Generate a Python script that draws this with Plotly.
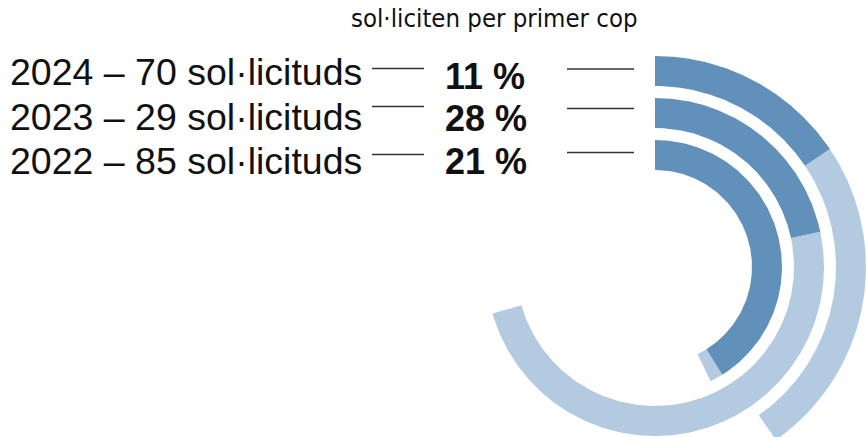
import numpy as np
import plotly.graph_objects as go

# ---- data ----
years = ["2024", "2023", "2022"]
requests = [70, 29, 85]
first_time_pct = [11, 28, 21]
# arc extents as drawn, degrees clockwise from 12 o'clock
dark_arc_deg = [56, 78, 148]
full_arc_deg = [145, 254, 154]
title_text = "sol·liciten per primer cop"

# ---- layout constants (pixels) ----
W, H = 866, 437
CX, CY = 655, 267
ring_outer = [211, 169, 127]
ring_width = 30
DARK = "#6190bb"
LIGHT = "#b4cae0"

label_y = [72.5, 117.5, 160.5]
pct_y = [76.5, 118.5, 161.5]
left_line_y = [68.5, 106.5, 154.5]
right_line_y = [69, 108.5, 152.5]


def arc_poly(r_in, r_out, a0, a1):
    t = np.radians(np.linspace(a0, a1, 240))
    xs = np.concatenate([r_out * np.sin(t), r_in * np.sin(t[::-1])])
    ys = np.concatenate([r_out * np.cos(t), r_in * np.cos(t[::-1])])
    return np.append(xs, xs[0]), np.append(ys, ys[0])


fig = go.Figure()
for i, yr in enumerate(years):
    r_out = ring_outer[i]
    r_in = r_out - ring_width
    xs, ys = arc_poly(r_in, r_out, dark_arc_deg[i], full_arc_deg[i])
    fig.add_trace(go.Scatter(x=xs, y=ys, fill="toself", fillcolor=LIGHT,
                             mode="lines", line=dict(width=0), hoverinfo="skip",
                             name=yr + " total"))
    xs, ys = arc_poly(r_in, r_out, 0, dark_arc_deg[i])
    fig.add_trace(go.Scatter(x=xs, y=ys, fill="toself", fillcolor=DARK,
                             mode="lines", line=dict(width=0), hoverinfo="skip",
                             name=yr))


def px(x):
    return x / W


def py(y):
    return 1 - y / H


annotations = []
shapes = []
annotations.append(dict(text=title_text, x=px(493.5), y=py(1), xref="paper", yref="paper",
                        xanchor="center", yanchor="top", showarrow=False,
                        font=dict(family="Liberation Sans Narrow, Arial Narrow, DejaVu Sans Condensed, Liberation Sans",
                                  size=25.5, color="#111")))
for i, yr in enumerate(years):
    annotations.append(dict(text=f"{yr} – {requests[i]} sol·licituds",
                            x=px(364), y=py(label_y[i]), xref="paper", yref="paper",
                            xanchor="right", yanchor="middle", showarrow=False,
                            font=dict(family="Liberation Sans, Arial", size=37.5, color="#111")))
    annotations.append(dict(text=f"<b>{first_time_pct[i]} %</b>",
                            x=px(443), y=py(pct_y[i]), xref="paper", yref="paper",
                            xanchor="left", yanchor="middle", showarrow=False,
                            font=dict(family="Liberation Sans, Arial", size=36, color="#111")))
    shapes.append(dict(type="line", xref="paper", yref="paper",
                       x0=px(372), x1=px(424), y0=py(left_line_y[i]), y1=py(left_line_y[i]),
                       line=dict(color="#333", width=1.5)))
    shapes.append(dict(type="line", xref="paper", yref="paper",
                       x0=px(567), x1=px(634), y0=py(right_line_y[i]), y1=py(right_line_y[i]),
                       line=dict(color="#333", width=1.5)))

fig.update_layout(
    width=W, height=H,
    margin=dict(l=0, r=0, t=0, b=0),
    paper_bgcolor="white", plot_bgcolor="white",
    showlegend=False,
    xaxis=dict(range=[-CX, W - CX], visible=False, fixedrange=True),
    yaxis=dict(range=[-(H - CY), CY], visible=False, fixedrange=True),
    annotations=annotations,
    shapes=shapes,
)

fig.write_html("out.html", config={"displayModeBar": False},
               post_script="document.body.style.margin='0';document.body.style.overflow='hidden';")
